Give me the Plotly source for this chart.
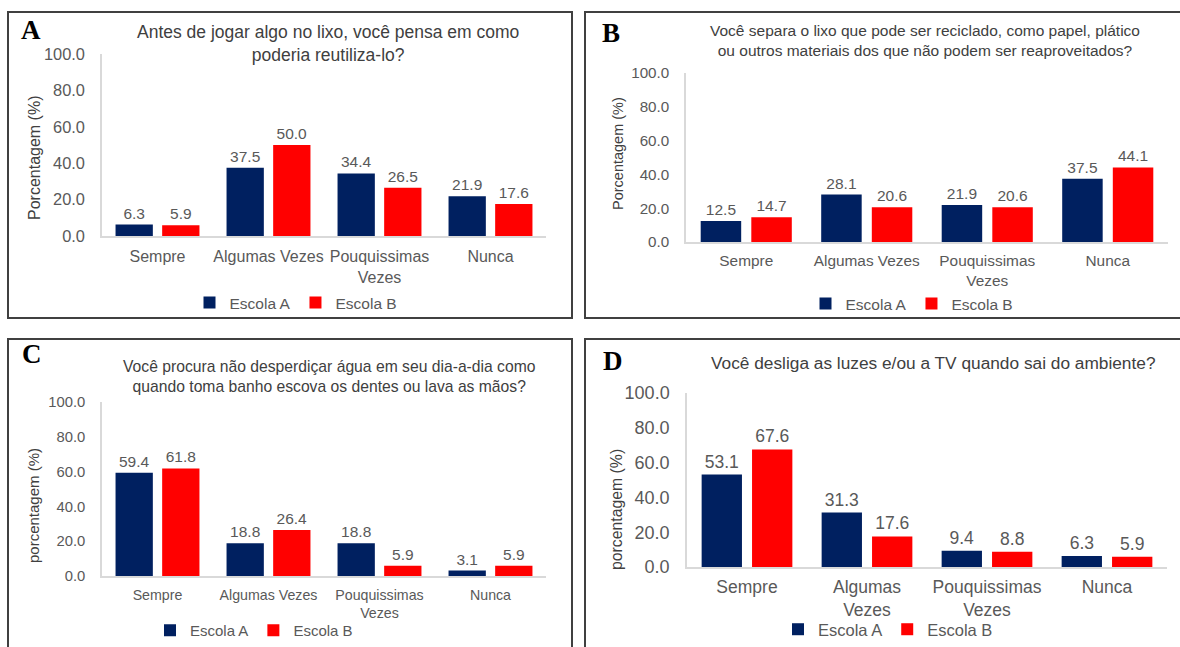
import plotly.graph_objects as go

W, H = 1180, 647

# ---------------- data ----------------
series_names = ["Escola A", "Escola B"]

cats_A = ["Sempre", "Algumas Vezes", "Pouquissimas<br>Vezes", "Nunca"]
escolaA_A = [6.3, 37.5, 34.4, 21.9]
escolaB_A = [5.9, 50.0, 26.5, 17.6]

cats_B = ["Sempre", "Algumas Vezes", "Pouquissimas<br>Vezes", "Nunca"]
escolaA_B = [12.5, 28.1, 21.9, 37.5]
escolaB_B = [14.7, 20.6, 20.6, 44.1]

cats_C = ["Sempre", "Algumas Vezes", "Pouquissimas<br>Vezes", "Nunca"]
escolaA_C = [59.4, 18.8, 18.8, 3.1]
escolaB_C = [61.8, 26.4, 5.9, 5.9]

cats_D = ["Sempre", "Algumas<br>Vezes", "Pouquissimas<br>Vezes", "Nunca"]
escolaA_D = [53.1, 31.3, 9.4, 6.3]
escolaB_D = [67.6, 17.6, 8.8, 5.9]

titles = [
    "Antes de jogar algo no lixo, você pensa em como<br>poderia reutiliza-lo?",
    "Você separa o lixo que pode ser reciclado, como papel, plático<br>ou outros materiais dos que não podem ser reaproveitados?",
    "Você procura não desperdiçar água em seu dia-a-dia como<br>quando toma banho escova os dentes ou lava as mãos?",
    "Você desliga as luzes e/ou a TV quando sai do ambiente?",
]
letters = ["A", "B", "C", "D"]
ytitles = ["Porcentagem (%)", "Porcentagem (%)", "porcentagem (%)", "porcentagem (%)"]
y_ticks = [0, 20, 40, 60, 80, 100]

# ---------------- styling / layout ----------------
NAVY = "#002060"
RED = "#FF0000"
GRAY = "#595959"
DARK = "#404040"
FONT = "Liberation Sans, Arial, sans-serif"


def px_x(x):
    return x / W


def px_y(y):
    return 1 - y / H


panels = [
    dict(cats=cats_A, a=escolaA_A, b=escolaB_A, x0=102, x1=546, y0=236, y100=54,
         tick=16, ytick=16.4, lab=15.5, legf=15.5, ttl=17.5, tx=328, ty=43, xso=5,
         ytf=16, letter=(31, 30), ytx=(34, 158), legpos=(296, 303, "middle"), bbox=(8, 12, 572, 318)),
    dict(cats=cats_B, a=escolaA_B, b=escolaB_B, x0=686, x1=1168, y0=242, y100=73,
         tick=15.4, ytick=15.2, lab=15.5, legf=15.5, ttl=15.5, tx=925, ty=41, xso=4,
         ytf=14.5, letter=(611, 33), ytx=(618, 154), legpos=(912, 304, "middle"), bbox=(585, 12, 1190, 318)),
    dict(cats=cats_C, a=escolaA_C, b=escolaB_C, x0=102, x1=546, y0=576, y100=402,
         tick=14.2, ytick=14.8, lab=15.5, legf=15, ttl=15.7, tx=329, ty=376, xso=5,
         ytf=15, letter=(32, 354), ytx=(33, 506), legpos=(254, 647, "bottom"), bbox=(8, 339, 572, 660)),
    dict(cats=cats_D, a=escolaA_D, b=escolaB_D, x0=687, x1=1167, y0=567, y100=393,
         tick=17.5, ytick=18, lab=17.5, legf=16.5, ttl=17.3, tx=933, ty=363, xso=3,
         ytf=15.8, letter=(613, 361), ytx=(616, 510), legpos=(888, 647, "bottom"), bbox=(585, 339, 1190, 660)),
]

fig = go.Figure()
layout = dict(
    width=W, height=H,
    margin=dict(l=0, r=0, t=0, b=0, autoexpand=False),
    paper_bgcolor="white", plot_bgcolor="white",
    barmode="group", bargap=0.16, bargroupgap=0.2,
    font=dict(family=FONT, color=GRAY),
    annotations=[], shapes=[],
)

for i, p in enumerate(panels):
    n = "" if i == 0 else str(i + 1)
    xa, ya = "x" + n, "y" + n
    leg = "legend" + n
    for name, vals, col in [(series_names[0], p["a"], NAVY), (series_names[1], p["b"], RED)]:
        fig.add_trace(go.Bar(
            x=p["cats"], y=vals, name=name, marker=dict(color=col, line=dict(width=0)),
            text=vals, texttemplate="%{y:.1f}", textposition="outside",
            textfont=dict(size=p["lab"], color=GRAY, family=FONT),
            constraintext="none", cliponaxis=False,
            xaxis=xa, yaxis=ya, legend=leg, showlegend=True,
        ))
    layout["xaxis" + n] = dict(
        domain=[px_x(p["x0"]), px_x(p["x1"])], anchor=ya, automargin=False,
        showline=True, linecolor="#d9d9d9", linewidth=1.5, showgrid=False,
        ticks="", tickangle=0, tickfont=dict(size=p["tick"], color=GRAY, family=FONT),
        ticklabelstandoff=p["xso"], fixedrange=True,
    )
    layout["yaxis" + n] = dict(
        domain=[px_y(p["y0"]), px_y(p["y100"])], anchor=xa, range=[0, 100], automargin=False,
        tickvals=y_ticks, tickformat=".1f",
        showline=True, linecolor="#d9d9d9", linewidth=1.5, showgrid=False,
        zeroline=False, ticks="", tickfont=dict(size=p["ytick"], color=GRAY, family=FONT),
        ticklabelstandoff=12, fixedrange=True,
    )
    lx, ly, lanchor = p["legpos"]
    layout[leg] = dict(
        orientation="h", x=px_x(lx), y=px_y(ly),
        xanchor="center", yanchor=lanchor, bgcolor="rgba(0,0,0,0)",
        font=dict(size=p["legf"], color=GRAY, family=FONT),
        itemwidth=30, tracegroupgap=0, traceorder="normal",
    )
    # panel title
    layout["annotations"].append(dict(
        text=titles[i], x=px_x(p["tx"]), y=px_y(p["ty"]), xref="paper", yref="paper",
        xanchor="center", yanchor="middle", showarrow=False, align="center",
        font=dict(size=p["ttl"], color=DARK, family=FONT),
    ))
    # panel letter
    layout["annotations"].append(dict(
        text="<b>" + letters[i] + "</b>", x=px_x(p["letter"][0]), y=px_y(p["letter"][1]),
        xref="paper", yref="paper", xanchor="center", yanchor="middle", showarrow=False,
        font=dict(size=27, color="black", family="Liberation Serif, Times New Roman, serif"),
    ))
    # y-axis title
    layout["annotations"].append(dict(
        text=ytitles[i], x=px_x(p["ytx"][0]), y=px_y(p["ytx"][1]), xref="paper", yref="paper",
        xanchor="center", yanchor="middle", showarrow=False, textangle=-90,
        font=dict(size=p["ytf"], color=DARK, family=FONT),
    ))
    bx0, by0, bx1, by1 = p["bbox"]
    layout["shapes"].append(dict(
        type="rect", xref="paper", yref="paper",
        x0=px_x(bx0), x1=px_x(bx1), y0=px_y(by1), y1=px_y(by0),
        line=dict(color=DARK, width=2), fillcolor="rgba(0,0,0,0)", layer="above",
    ))

fig.update_layout(**layout)
fig.write_html("out.html")
